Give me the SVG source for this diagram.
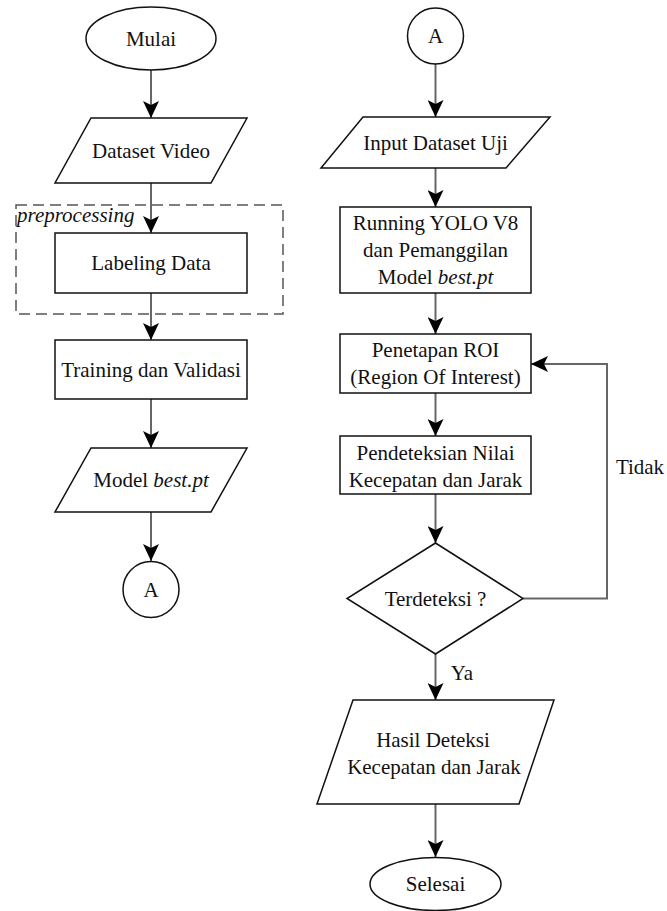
<svg xmlns="http://www.w3.org/2000/svg" width="667" height="911" viewBox="0 0 667 911">
<style>
.s{fill:#fff;stroke:#111;stroke-width:1.5}
.t{font-family:"Liberation Serif","Times New Roman",serif;font-size:21px;fill:#111;text-anchor:middle}
.c{fill:none;stroke:#666;stroke-width:2}
.d{fill:none;stroke:#555;stroke-width:1.5;stroke-dasharray:11 6}
</style>
<defs>
<marker id="ah" markerUnits="userSpaceOnUse" markerWidth="18" markerHeight="16" refX="17" refY="8" orient="auto">
<path d="M0,0 L17,8 L0,16 L4,8 z" fill="#000"/>
</marker>
</defs>
<rect width="667" height="911" fill="#fff"/>

<g id="preprocessing">
<rect class="d" x="16" y="205" width="267" height="109"/>
<text x="17" y="222" style="font-family:'Liberation Serif','Times New Roman',serif;font-size:21px;font-style:italic;fill:#111">preprocessing</text>
</g>

<g id="connectors">
<path class="c" d="M151,70 V118" marker-end="url(#ah)"/>
<path class="c" d="M151,183 V233" marker-end="url(#ah)"/>
<path class="c" d="M151,293 V340" marker-end="url(#ah)"/>
<path class="c" d="M151,399 V448" marker-end="url(#ah)"/>
<path class="c" d="M151,512 V561" marker-end="url(#ah)"/>
<path class="c" d="M435.5,64 V117" marker-end="url(#ah)"/>
<path class="c" d="M435.5,168 V207" marker-end="url(#ah)"/>
<path class="c" d="M435.5,293 V334" marker-end="url(#ah)"/>
<path class="c" d="M435.5,393 V436" marker-end="url(#ah)"/>
<path class="c" d="M435.5,494 V543" marker-end="url(#ah)"/>
<path class="c" d="M435.5,654 V700" marker-end="url(#ah)"/>
<path class="c" d="M435.5,804 V857" marker-end="url(#ah)"/>
<path class="c" d="M523,598.5 H607 V364 H531" marker-end="url(#ah)"/>
<text class="t" x="640" y="474">Tidak</text>
<text class="t" x="462" y="680">Ya</text>
</g>

<g id="mulai">
<ellipse class="s" cx="151" cy="38.5" rx="65" ry="31.5"/>
<text class="t" x="151" y="46">Mulai</text>
</g>
<g id="dataset-video">
<polygon class="s" points="91,118 247,118 211,183 55,183"/>
<text class="t" x="151" y="158">Dataset Video</text>
</g>
<g id="labeling-data">
<rect class="s" x="55" y="233" width="192" height="60"/>
<text class="t" x="151" y="270">Labeling Data</text>
</g>
<g id="training">
<rect class="s" x="55" y="340" width="192" height="59"/>
<text class="t" x="151" y="377">Training dan Validasi</text>
</g>
<g id="model-best">
<polygon class="s" points="91,448 247,448 211,512 55,512"/>
<text class="t" x="151" y="487">Model <tspan font-style="italic">best.pt</tspan></text>
</g>
<g id="connector-a-left">
<circle class="s" cx="151" cy="589.5" r="28"/>
<text class="t" x="151" y="597">A</text>
</g>

<g id="connector-a-right">
<circle class="s" cx="435.5" cy="36" r="28"/>
<text class="t" x="435.5" y="43">A</text>
</g>
<g id="input-dataset-uji">
<polygon class="s" points="363,117 550,117 506,168 321,168"/>
<text class="t" x="435.5" y="150">Input Dataset Uji</text>
</g>
<g id="running-yolo">
<rect class="s" x="340" y="207" width="191" height="86"/>
<text class="t" x="435.5" y="230">Running YOLO V8</text>
<text class="t" x="435.5" y="257">dan Pemanggilan</text>
<text class="t" x="435.5" y="284">Model <tspan font-style="italic">best.pt</tspan></text>
</g>
<g id="penetapan-roi">
<rect class="s" x="340" y="334" width="191" height="59"/>
<text class="t" x="435.5" y="357">Penetapan ROI</text>
<text class="t" x="435.5" y="384">(Region Of Interest)</text>
</g>
<g id="pendeteksian">
<rect class="s" x="340" y="436" width="191" height="58"/>
<text class="t" x="435.5" y="460">Pendeteksian Nilai</text>
<text class="t" x="435.5" y="487">Kecepatan dan Jarak</text>
</g>
<g id="terdeteksi">
<polygon class="s" points="435.5,543 523,598.5 435.5,654 347,598.5"/>
<text class="t" x="435.5" y="606">Terdeteksi ?</text>
</g>
<g id="hasil-deteksi">
<polygon class="s" points="353,700 554,700 519,804 317,804"/>
<text class="t" x="433" y="747">Hasil Deteksi</text>
<text class="t" x="434" y="774">Kecepatan dan Jarak</text>
</g>
<g id="selesai">
<ellipse class="s" cx="435.5" cy="884" rx="65.5" ry="26.5"/>
<text class="t" x="435.5" y="891">Selesai</text>
</g>
</svg>
